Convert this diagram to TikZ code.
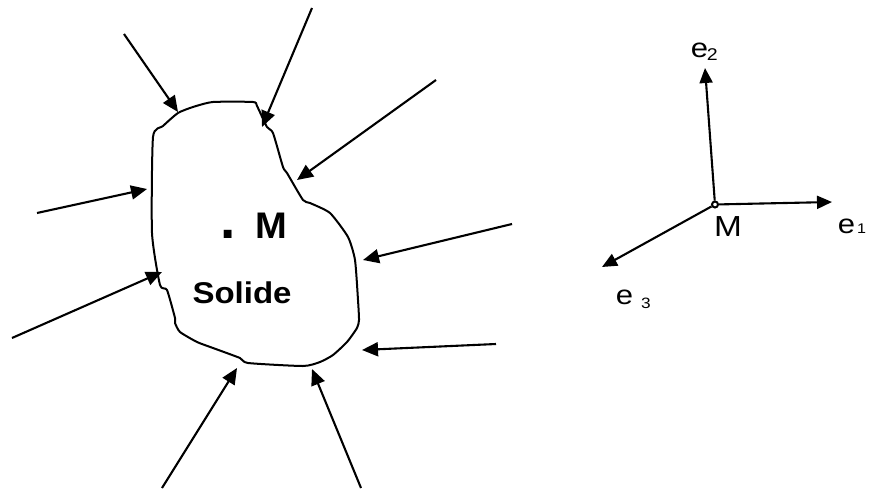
\documentclass[tikz,border=0pt]{standalone}
\usepackage{fontspec}
\setmainfont{Liberation Sans}
\usetikzlibrary{arrows.meta}
\newcommand{\fs}[1]{\fontsize{#1}{#1}\selectfont}
\newcommand{\sx}[2][1.15]{\scalebox{#1}[1]{#2}}
\begin{document}
\begin{tikzpicture}[x=1pt,y=-1pt,
  force/.style={line width=2.1pt,-{Triangle[length=16pt,width=14pt]}},
  axis/.style={line width=2.1pt,-{Triangle[length=15pt,width=13pt]}},
  lbl/.style={inner sep=0pt,outer sep=0pt},
  contour/.style={line width=2pt,line join=round}]
\useasboundingbox (0,0) rectangle (877,489);
% solid contour
\draw[contour] plot[smooth cycle,tension=0.35] coordinates {
 (153,137) (163,126) (178,113) (193,107) (213,102) (253,102) (257,106)
 (267,127) (273,133) (283,167) (287,173) (303,200) (310,203) (330,213)
 (348,237) (355,260) (358,300) (359,320) (357,328) (347,342) (333,355)
 (320,362) (303,366) (248,363) (240,358) (213,348) (197,342) (180,332)
 (175,323) (175,318) (167,290) (160,285) (152,233)};
% force arrows
\coordinate (s1) at (124,34);  \coordinate (t1) at (178,112);
\coordinate (s2) at (312,8);   \coordinate (t2) at (262,127);
\coordinate (s3) at (436,80);  \coordinate (t3) at (297,180);
\coordinate (s4) at (37,213);  \coordinate (t4) at (147,189);
\coordinate (s5) at (12,338);  \coordinate (t5) at (162,272);
\coordinate (s6) at (512,224); \coordinate (t6) at (363,260);
\coordinate (s7) at (496,344); \coordinate (t7) at (362,350);
\coordinate (s8) at (162,488); \coordinate (t8) at (237,368);
\coordinate (s9) at (361,488); \coordinate (t9) at (312,369);
\foreach \i in {1,...,9}{\draw[force] (s\i) -- (t\i);}
% labels in the solid
\node[lbl,anchor=base] (dot) at (228.5,238) {\bfseries\fs{55}.};
\node[lbl,anchor=base west] (Mleft) at (255.5,238.3) {\sx[1.03]{\bfseries\fs{37}M}};
\node[lbl,anchor=base west] (solide) at (192.5,303) {\sx[1.1]{\bfseries\fs{30}Solide}};
% frame
\node[circle,draw,line width=2pt,fill=white,minimum size=6pt,inner sep=0pt] (M0) at (715,204.5) {};
\coordinate (e1) at (832,202);
\coordinate (e2) at (705,68);
\coordinate (e3) at (602,267);
\draw[axis] (M0) -- (e1);
\draw[axis] (M0) -- (e2);
\draw[axis] (M0) -- (e3);
\node[lbl,anchor=base west] (Mright) at (714.2,236.7) {\sx{\fs{29}M}};
\node[lbl,anchor=base west] (l1) at (837.8,233) {\sx{\fs{27}e\kern1.7pt{\fs{14}1}}};
\node[lbl,anchor=base west] (l2) at (690.8,58) {\sx{\fs{27}e\kern-1pt\raisebox{-3pt}{\fs{17}2}}};
\node[lbl,anchor=base west] (l3) at (615.8,304) {\sx{\fs{27}e\kern7pt\raisebox{-4pt}{\fs{15}3}}};
\end{tikzpicture}
\end{document}
